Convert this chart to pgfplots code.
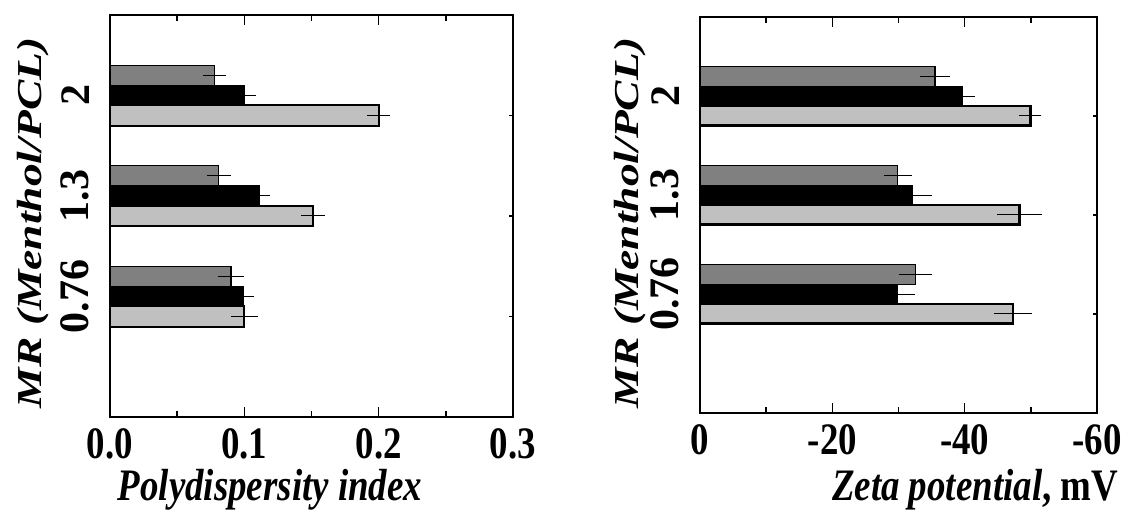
\documentclass[border=0pt]{standalone}
\usepackage{fontspec}
\usepackage{pgfplots}
\pgfplotsset{compat=1.18}
\newfontfamily\hfont[FakeStretch=0.82]{Liberation Serif}
\newfontfamily\vfont[FakeStretch=1.3]{Liberation Serif}
\newfontfamily\tfont{Liberation Serif}
\newcommand{\hf}{\hfont\fontsize{45}{48}\selectfont\bfseries}
\newcommand{\vf}{\vfont\fontsize{35}{40}\selectfont\bfseries}
\newcommand{\tf}{\tfont\fontsize{42}{44}\selectfont\bfseries}
\definecolor{dg}{HTML}{808080}
\definecolor{lg}{HTML}{C0C0C0}
\pgfplotsset{
  common/.style={
    scale only axis,
    anchor=south west,
    ymin=0, ymax=4,
    axis line style={line width=2pt},
    tick align=inside,
    major tick length=10pt, minor tick length=6pt,
    tick style={line width=1.5pt, black},
    ytick={1.2,2.2,3.2}, yticklabels={0.76,1.3,2},
    ytick style={draw=none},
    extra y ticks={1,2,3},
    extra y tick labels={},
    extra y tick style={major tick length=4pt, ytick style={draw=black, line width=1.5pt}},
    xticklabel style={font=\hf, inner sep=0pt, anchor=north, yshift=-11pt},
    yticklabel style={font=\tf, rotate=90, anchor=south, inner sep=0pt, outer sep=0pt},
    /pgf/number format/assume math mode=true,
    ylabel={\vf\itshape MR (Menthol/PCL)},
  },
  dgbar/.style={xbar, bar width=0.2, bar shift=0pt, fill=dg, draw=black, line width=1.2pt, mark size=#1,
    error bars/.cd, x dir=both, x explicit,
    error bar style={line width=1pt, black},
    error mark options={line width=1pt, black, mark size=#1}},
  bkbar/.style={xbar, bar width=0.2, bar shift=0pt, fill=black, draw=black, line width=1.2pt, mark size=#1,
    error bars/.cd, x dir=both, x explicit,
    error bar style={line width=1pt, black},
    error mark options={line width=1pt, black, mark size=#1}},
  lgbar/.style 2 args={xbar, bar width=0.2, bar shift=0pt, fill=lg, draw=black, line width=#2, mark size=#1,
    error bars/.cd, x dir=both, x explicit,
    error bar style={line width=1pt, black},
    error mark options={line width=1pt, black, mark size=#1}},
}
\begin{document}
\begin{tikzpicture}[x=1pt,y=1pt]
\path[use as bounding box] (0,0) rectangle (1126,510);
\begin{axis}[common,
  at={(110pt,93pt)}, width=403pt, height=402pt,
  xmin=0, xmax=0.3,
  xtick={0,0.1,0.2,0.3}, xticklabels={0.0,0.1,0.2,0.3},
  minor xtick={0.05,0.15,0.25},
  yticklabel style={outer ysep=21pt},
  xlabel={\hf\itshape Polydispersity index},
  xlabel style={at={(axis description cs:0.397,-0.207)}, anchor=base, inner sep=0pt},
  ylabel style={at={(axis description cs:-0.17,0.483)}, anchor=base, inner sep=0pt},
]
\addplot[lgbar={10pt}{2pt}] coordinates {(0.100,1) +- (0.0025,0) (0.151,2) +- (0.0015,0) (0.200,3) +- (0.001,0)};
\addplot[bkbar=10pt] coordinates {(0.099,1.2) +- (0.001,0) (0.111,2.2) +- (0.001,0) (0.100,3.2) +- (0.001,0)};
\addplot[dgbar=10pt] coordinates {(0.090,1.4) +- (0.0025,0) (0.081,2.4) +- (0.0015,0) (0.078,3.4) +- (0.001,0)};
\end{axis}
\begin{axis}[common,
  at={(700pt,97pt)}, width=397pt, height=396pt,
  xmin=0, xmax=60,
  xtick={0,20,40,60}, xticklabels={0,-20,-40,-60},
  minor xtick={10,30,50},
  yticklabel style={outer ysep=21pt},
  xlabel={\hf\itshape Zeta potential\upshape, mV},
  xlabel style={at={(axis description cs:0.693,-0.221)}, anchor=base, inner sep=0pt},
  ylabel style={at={(axis description cs:-0.155,0.48)}, anchor=base, inner sep=0pt},
]
\addplot[lgbar={8pt}{2.8pt}] coordinates {(47.3,1) +- (1.6,0) (48.3,2) +- (2.2,0) (49.9,3) +- (0.5,0)};
\addplot[bkbar=8pt] coordinates {(29.8,1.2) +- (1.5,0) (32.1,2.2) +- (1.8,0) (39.7,3.2) +- (0.6,0)};
\addplot[dgbar=8pt] coordinates {(32.6,1.4) +- (1.3,0) (29.9,2.4) +- (0.9,0) (35.5,3.4) +- (1.0,0)};
\end{axis}
\end{tikzpicture}
\end{document}
